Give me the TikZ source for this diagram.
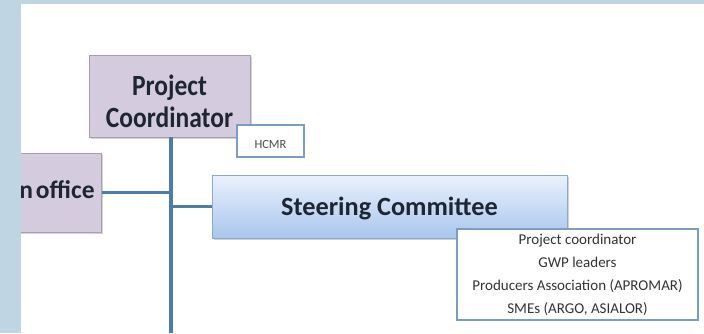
\documentclass[tikz,border=0pt]{standalone}
\usepackage{fontspec}
\setmainfont{Carlito}
\usetikzlibrary{shadows}
\definecolor{bgblue}{HTML}{BFD5E3}
\definecolor{lav}{HTML}{D5CBDE}
\definecolor{lavborder}{HTML}{A99DB3}
\definecolor{linkblue}{HTML}{4C7CA8}
\definecolor{sctop}{HTML}{EAF1FC}
\definecolor{scbot}{HTML}{A9C6EE}
\definecolor{scborder}{HTML}{8CA8CB}
\definecolor{noteborder}{HTML}{7E9DBE}
\definecolor{txt}{HTML}{1E2533}
\tikzset{
  lavbox/.style={draw=lavborder, line width=0.8pt, fill=lav, inner sep=0pt,
    drop shadow={shadow xshift=1.5pt, shadow yshift=-1.5pt, opacity=0.35}},
  scbox/.style={draw=scborder, line width=0.8pt, top color=sctop, bottom color=scbot, inner sep=0pt,
    drop shadow={shadow xshift=1.5pt, shadow yshift=-1.5pt, opacity=0.35}},
  notebox/.style={draw=noteborder, line width=1.1pt, fill=white, inner sep=0pt,
    drop shadow={shadow xshift=1pt, shadow yshift=-1pt, opacity=0.25}},
  link/.style={draw=linkblue, line width=3pt},
  spine/.style={draw=linkblue, line width=4pt},
}
\begin{document}
\begin{tikzpicture}[x=1pt,y=-1pt]
\useasboundingbox (0,0) rectangle (704,333);
\fill[bgblue] (0,0) rectangle (704,333);
\fill[white] (21,4) rectangle (704,333);
\begin{scope}
\clip (21,4) rectangle (704,333);
% project coordinator
\node[lavbox, minimum width=161pt, minimum height=82pt, text=txt,
  font=\fontsize{25.5}{28}\selectfont\bfseries] (pc) at (169.5,96)
  {\raisebox{-5pt}[\height][\depth]{\scalebox{1}[1.15]{\parbox{150pt}{\centering Project\\Coordinator}}}};
\coordinate (spinetop) at (171,137);
\coordinate (spinebot) at (171,333);
% office
\node[lavbox, anchor=east, minimum height=79pt, text width=100pt, align=right, inner xsep=7pt,
  text=txt, font=\fontsize{25.5}{28}\selectfont\bfseries] (office) at (102,192.5)
  {\raisebox{2.5pt}[\height][\depth]{\spaceskip=3pt\relax n office}};
% steering committee
\node[scbox, minimum width=355pt, minimum height=63pt, text=txt,
  font=\fontsize{26.3}{30}\selectfont\bfseries] (sc) at (389.5,206.5)
  {\raisebox{-2pt}[\height][\depth]{Steering Committee}};
\draw[link] (office.east) -- (office.east -| spinetop);
\draw[link] (sc.west) -- (sc.west -| spinetop);
\draw[spine] (spinetop) -- (spinebot);
% HCMR
\node[notebox, minimum width=67pt, minimum height=32pt, text=black!70,
  font=\fontsize{12.5}{14}\selectfont] (hcmr) at (270.5,141)
  {\raisebox{-3pt}[\height][\depth]{HCMR}};
% members
\node[notebox, minimum width=241pt, minimum height=91pt, align=center, text=black!80,
  font=\fontsize{15}{23}\selectfont] (members) at (577.5,274.5)
  {Project coordinator\\GWP leaders\\Producers Association (APROMAR)\\SMEs (ARGO, ASIALOR)};
\end{scope}
\end{tikzpicture}
\end{document}
